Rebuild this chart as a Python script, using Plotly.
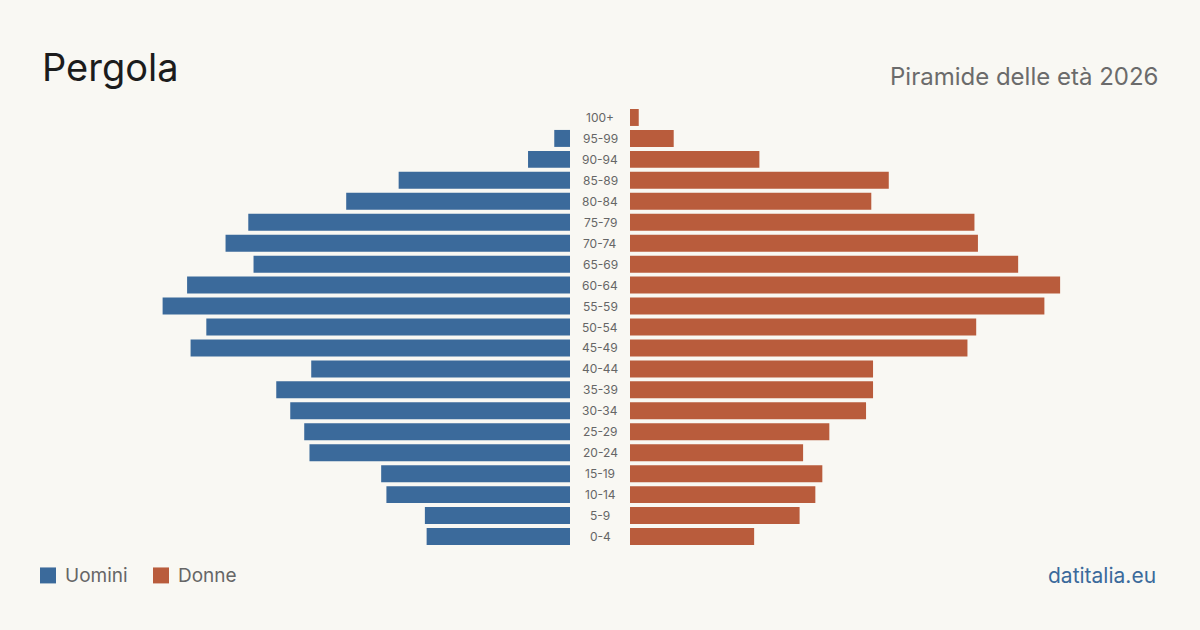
import plotly.graph_objects as go

ages = ["0-4", "5-9", "10-14", "15-19", "20-24", "25-29", "30-34", "35-39", "40-44",
        "45-49", "50-54", "55-59", "60-64", "65-69", "70-74", "75-79", "80-84",
        "85-89", "90-94", "95-99", "100+"]
men = [82, 83, 105, 108, 149, 152, 160, 168, 148, 217, 208, 233, 219, 181, 197, 184,
       128, 98, 24, 9, 0]
women = [71, 97, 106, 110, 99, 114, 135, 139, 139, 193, 198, 237, 246, 222, 199, 197,
         138, 148, 74, 25, 5]
series_names = ["Uomini", "Donne"]

BLUE = "#3b6a9b"
RED = "#b95c3c"
BG = "#f9f8f3"
FONT = "Inter"
XMAX = 326  # units spanned by each half

W, H = 1200, 630
T, B = 106.5, 82.5


def py(p):
    """pixel y -> paper y (paper spans the plot area)"""
    return (H - B - p) / (H - T - B)


def px(p):
    return p / W


fig = go.Figure()
fig.add_trace(go.Bar(y=ages, x=men, orientation="h", name=series_names[0],
                     marker=dict(color=BLUE, line=dict(width=0)),
                     xaxis="x", yaxis="y", hoverinfo="x+y"))
fig.add_trace(go.Bar(y=ages, x=women, orientation="h", name=series_names[1],
                     marker=dict(color=RED, line=dict(width=0)),
                     xaxis="x2", yaxis="y", hoverinfo="x+y"))

for a in ages:
    fig.add_annotation(x=0.5, xref="paper", y=a, yref="y", text=a, showarrow=False,
                       font=dict(family=FONT, size=12, color="#666666"),
                       xanchor="center", yanchor="middle")

fig.add_annotation(x=px(40), y=py(66), xref="paper", yref="paper",
                   text="Pergola", showarrow=False, xanchor="left", yanchor="middle",
                   font=dict(family=FONT, size=38, color="#1c1c1c"))
fig.add_annotation(x=px(1160), y=py(76), xref="paper", yref="paper",
                   text="Piramide delle età 2026", showarrow=False, xanchor="right",
                   yanchor="middle", font=dict(family=FONT, size=24, color="#6b6b6b"))
fig.add_annotation(x=px(1158), y=py(576), xref="paper", yref="paper",
                   text="datitalia.eu", showarrow=False, xanchor="right",
                   yanchor="middle", font=dict(family=FONT, size=21, color=BLUE))

# custom legend
legend_items = [(series_names[0], BLUE, 40), (series_names[1], RED, 153)]
for name, col, x0 in legend_items:
    fig.add_shape(type="rect", xref="paper", yref="paper",
                  x0=px(x0), x1=px(x0 + 16), y0=py(584), y1=py(568),
                  fillcolor=col, line=dict(width=0))
    fig.add_annotation(x=px(x0 + 23), y=py(576), xref="paper", yref="paper",
                       text=name, showarrow=False, xanchor="left", yanchor="middle",
                       font=dict(family=FONT, size=19, color="#666666"))

fig.update_layout(
    width=W, height=H,
    paper_bgcolor=BG, plot_bgcolor=BG,
    margin=dict(l=0, r=0, t=T, b=B),
    barmode="overlay", bargap=0.19,
    showlegend=False,
    xaxis=dict(domain=[0, 570 / 1200], range=[XMAX, 0], visible=False, fixedrange=True),
    xaxis2=dict(domain=[630 / 1200, 1], range=[0, XMAX], visible=False, fixedrange=True),
    yaxis=dict(categoryorder="array", categoryarray=ages, visible=False,
               range=[-0.5, len(ages) - 0.5], fixedrange=True),
    font=dict(family=FONT),
)

fig.write_html("out.html", config={"displayModeBar": False})
